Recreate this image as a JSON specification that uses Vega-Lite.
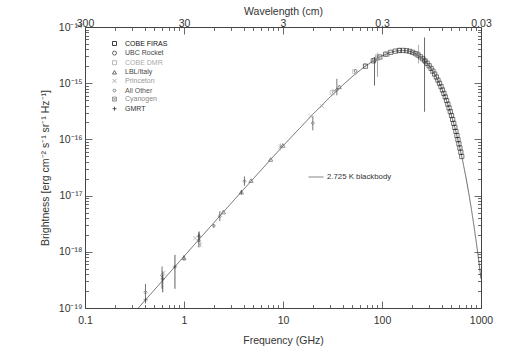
{
  "$schema": "https://vega.github.io/schema/vega-lite/v6.json",
  "autosize": "none",
  "width": 396,
  "height": 281,
  "padding": {"left": 85, "top": 27, "right": 35, "bottom": 50},
  "background": "white",
  "config": {
    "font": "Liberation Sans",
    "view": {"stroke": "#444", "strokeWidth": 1},
    "axis": {"grid": false, "domain": false, "tickColor": "#444", "tickWidth": 0.8, "labelColor": "#333", "titleColor": "#333", "labelFont": "Liberation Sans", "titleFont": "Liberation Sans", "titleFontWeight": "normal", "labelFontSize": 10.5, "titleFontSize": 10.5, "labelFlush": false, "labelOverlap": false},
    "legend": {"labelFont": "Liberation Sans", "labelColor": "#444"}
  },
  "datasets": {
    "bb": [
      {"nu": 0.3459, "B": 9.99e-20}, {"nu": 1, "B": 8.30e-19}, {"nu": 3, "B": 7.34e-18}, {"nu": 10, "B": 7.66e-17},
      {"nu": 20, "B": 2.79e-16}, {"nu": 30, "B": 5.72e-16}, {"nu": 40, "B": 9.23e-16}, {"nu": 50, "B": 1.305e-15},
      {"nu": 60, "B": 1.697e-15}, {"nu": 70, "B": 2.081e-15}, {"nu": 80, "B": 2.442e-15}, {"nu": 90, "B": 2.771e-15},
      {"nu": 100, "B": 3.060e-15}, {"nu": 120, "B": 3.502e-15}, {"nu": 140, "B": 3.756e-15}, {"nu": 160, "B": 3.837e-15},
      {"nu": 180, "B": 3.770e-15}, {"nu": 200, "B": 3.589e-15}, {"nu": 220, "B": 3.329e-15}, {"nu": 250, "B": 2.855e-15},
      {"nu": 280, "B": 2.353e-15}, {"nu": 300, "B": 2.030e-15}, {"nu": 350, "B": 1.333e-15}, {"nu": 400, "B": 8.24e-16},
      {"nu": 450, "B": 4.86e-16}, {"nu": 500, "B": 2.76e-16}, {"nu": 550, "B": 1.524e-16}, {"nu": 600, "B": 8.20e-17},
      {"nu": 650, "B": 4.32e-17}, {"nu": 700, "B": 2.24e-17}, {"nu": 750, "B": 1.141e-17}, {"nu": 800, "B": 5.74e-18},
      {"nu": 850, "B": 2.85e-18}, {"nu": 900, "B": 1.40e-18}, {"nu": 950, "B": 6.85e-19}, {"nu": 1000, "B": 3.31e-19}
    ],
    "firas": [
      {"nu": 68.05, "B": 2.007e-15, "src": "COBE FIRAS"}, {"nu": 81.65, "B": 2.499e-15, "src": "COBE FIRAS"},
      {"nu": 95.25, "B": 2.928e-15, "src": "COBE FIRAS"}, {"nu": 108.86, "B": 3.278e-15, "src": "COBE FIRAS"},
      {"nu": 122.46, "B": 3.543e-15, "src": "COBE FIRAS"}, {"nu": 136.06, "B": 3.721e-15, "src": "COBE FIRAS"},
      {"nu": 149.66, "B": 3.815e-15, "src": "COBE FIRAS"}, {"nu": 163.26, "B": 3.835e-15, "src": "COBE FIRAS"},
      {"nu": 176.87, "B": 3.789e-15, "src": "COBE FIRAS"}, {"nu": 190.47, "B": 3.687e-15, "src": "COBE FIRAS"},
      {"nu": 204.07, "B": 3.542e-15, "src": "COBE FIRAS"}, {"nu": 217.67, "B": 3.362e-15, "src": "COBE FIRAS"},
      {"nu": 231.28, "B": 3.159e-15, "src": "COBE FIRAS"}, {"nu": 244.88, "B": 2.940e-15, "src": "COBE FIRAS"},
      {"nu": 258.48, "B": 2.713e-15, "src": "COBE FIRAS"}, {"nu": 272.08, "B": 2.485e-15, "src": "COBE FIRAS"},
      {"nu": 285.68, "B": 2.260e-15, "src": "COBE FIRAS"}, {"nu": 299.29, "B": 2.042e-15, "src": "COBE FIRAS"},
      {"nu": 312.89, "B": 1.834e-15, "src": "COBE FIRAS"}, {"nu": 326.49, "B": 1.638e-15, "src": "COBE FIRAS"},
      {"nu": 340.09, "B": 1.456e-15, "src": "COBE FIRAS"}, {"nu": 353.70, "B": 1.288e-15, "src": "COBE FIRAS"},
      {"nu": 367.30, "B": 1.135e-15, "src": "COBE FIRAS"}, {"nu": 380.90, "B": 9.96e-16, "src": "COBE FIRAS"},
      {"nu": 394.50, "B": 8.71e-16, "src": "COBE FIRAS"}, {"nu": 408.11, "B": 7.58e-16, "src": "COBE FIRAS"},
      {"nu": 421.71, "B": 6.58e-16, "src": "COBE FIRAS"}, {"nu": 435.31, "B": 5.70e-16, "src": "COBE FIRAS"},
      {"nu": 448.91, "B": 4.92e-16, "src": "COBE FIRAS"}, {"nu": 462.52, "B": 4.23e-16, "src": "COBE FIRAS"},
      {"nu": 476.12, "B": 3.63e-16, "src": "COBE FIRAS"}, {"nu": 489.72, "B": 3.11e-16, "src": "COBE FIRAS"},
      {"nu": 503.32, "B": 2.66e-16, "src": "COBE FIRAS"}, {"nu": 516.93, "B": 2.265e-16, "src": "COBE FIRAS"},
      {"nu": 530.53, "B": 1.927e-16, "src": "COBE FIRAS"}, {"nu": 544.13, "B": 1.636e-16, "src": "COBE FIRAS"},
      {"nu": 557.73, "B": 1.387e-16, "src": "COBE FIRAS"}, {"nu": 571.34, "B": 1.173e-16, "src": "COBE FIRAS"},
      {"nu": 584.94, "B": 9.91e-17, "src": "COBE FIRAS"}, {"nu": 598.54, "B": 8.35e-17, "src": "COBE FIRAS"},
      {"nu": 612.14, "B": 7.03e-17, "src": "COBE FIRAS"}, {"nu": 625.75, "B": 5.91e-17, "src": "COBE FIRAS"},
      {"nu": 639.35, "B": 4.96e-17, "src": "COBE FIRAS"}
    ],
    "pts": [
      {"nu": 0.408, "B": 1.9e-19, "lo": 1.2e-19, "hi": 2.7e-19, "src": "All Other"},
      {"nu": 0.41, "B": 1.4e-19, "src": "GMRT"},
      {"nu": 0.60, "B": 3.8e-19, "lo": 2.2e-19, "hi": 5.5e-19, "src": "All Other"},
      {"nu": 0.61, "B": 3.3e-19, "lo": 1.9e-19, "hi": 4.5e-19, "src": "GMRT"},
      {"nu": 0.62, "B": 4.2e-19, "src": "Princeton"},
      {"nu": 0.81, "B": 5.4e-19, "lo": 2.2e-19, "hi": 8.8e-19, "src": "GMRT"},
      {"nu": 1.0, "B": 7.8e-19, "lo": 7.0e-19, "hi": 8.7e-19, "src": "LBL/Italy"},
      {"nu": 1.3, "B": 1.75e-18, "src": "Princeton"},
      {"nu": 1.41, "B": 1.6e-18, "lo": 1.2e-18, "hi": 2.2e-18, "src": "All Other"},
      {"nu": 1.42, "B": 1.9e-18, "lo": 1.5e-18, "hi": 2.3e-18, "src": "GMRT"},
      {"nu": 1.45, "B": 1.35e-18, "lo": 1.2e-18, "hi": 1.6e-18, "src": "Princeton"},
      {"nu": 2.0, "B": 2.9e-18, "lo": 2.7e-18, "hi": 3.1e-18, "src": "All Other"},
      {"nu": 2.3, "B": 4.3e-18, "lo": 3.5e-18, "hi": 5.3e-18, "src": "All Other"},
      {"nu": 2.5, "B": 5.1e-18, "src": "LBL/Italy"},
      {"nu": 3.8, "B": 1.15e-17, "lo": 1.05e-17, "hi": 1.25e-17, "src": "LBL/Italy"},
      {"nu": 4.08, "B": 1.8e-17, "lo": 1.5e-17, "hi": 2.2e-17, "src": "All Other"},
      {"nu": 4.75, "B": 1.85e-17, "src": "LBL/Italy"},
      {"nu": 7.5, "B": 4.4e-17, "src": "LBL/Italy"},
      {"nu": 9.4, "B": 7.4e-17, "lo": 6.4e-17, "hi": 8.4e-17, "src": "Princeton"},
      {"nu": 10.0, "B": 7.8e-17, "src": "LBL/Italy"},
      {"nu": 19.0, "B": 2.6e-16, "src": "Princeton"},
      {"nu": 20.0, "B": 1.95e-16, "lo": 1.45e-16, "hi": 2.6e-16, "src": "All Other"},
      {"nu": 24.8, "B": 3.9e-16, "src": "Princeton"},
      {"nu": 31.5, "B": 6.8e-16, "lo": 6.0e-16, "hi": 7.6e-16, "src": "COBE DMR"},
      {"nu": 33.0, "B": 7.3e-16, "src": "Princeton"},
      {"nu": 35.0, "B": 7.6e-16, "lo": 6.1e-16, "hi": 1.2e-15, "src": "All Other"},
      {"nu": 37.0, "B": 8.6e-16, "src": "LBL/Italy"},
      {"nu": 53.0, "B": 1.6e-15, "lo": 1.45e-15, "hi": 1.75e-15, "src": "COBE DMR"},
      {"nu": 54.0, "B": 1.65e-15, "src": "All Other"},
      {"nu": 67.0, "B": 2.1e-15, "src": "All Other"},
      {"nu": 84.0, "B": 2.6e-15, "lo": 9.1e-16, "hi": 2.9e-15, "src": "UBC Rocket"},
      {"nu": 90.0, "B": 2.8e-15, "lo": 1.3e-15, "hi": 3.1e-15, "src": "Cyanogen"},
      {"nu": 90.5, "B": 3.0e-15, "lo": 2.5e-15, "hi": 3.5e-15, "src": "COBE DMR"},
      {"nu": 113.0, "B": 3.3e-15, "src": "Cyanogen"},
      {"nu": 150.0, "B": 3.85e-15, "src": "UBC Rocket"},
      {"nu": 227.0, "B": 3.3e-15, "src": "Cyanogen"},
      {"nu": 234.0, "B": 3.3e-15, "lo": 2.24e-15, "hi": 4.8e-15, "src": "Princeton"},
      {"nu": 269.0, "B": 2.5e-15, "lo": 3.1e-16, "hi": 6.5e-15, "src": "UBC Rocket"}
    ]
  },
  "layer": [
    {
      "data": {"name": "bb"},
      "mark": {"type": "line", "color": "#444", "strokeWidth": 0.8, "clip": true},
      "encoding": {
        "x": {"field": "nu", "type": "quantitative", "scale": {"type": "log", "domain": [0.1, 1000], "nice": false},
          "axis": {"orient": "bottom", "values": [0.1, 1, 10, 100, 1000], "tickSize": -7, "labelPadding": 14,
            "labelExpr": "datum.value < 0.5 ? '0.1' : datum.value < 5 ? '1' : datum.value < 50 ? '10' : datum.value < 500 ? '100' : '1000'",
            "title": "Frequency (GHz)", "titlePadding": 10}},
        "y": {"field": "B", "type": "quantitative", "scale": {"type": "log", "domain": [1e-19, 1e-14], "nice": false},
          "axis": {"orient": "left", "values": [1e-19, 1e-18, 1e-17, 1e-16, 1e-15, 1e-14], "tickSize": -7, "labelPadding": 10,
            "labelExpr": "datum.value < 5e-19 ? '10⁻¹⁹' : datum.value < 5e-18 ? '10⁻¹⁸' : datum.value < 5e-17 ? '10⁻¹⁷' : datum.value < 5e-16 ? '10⁻¹⁶' : datum.value < 5e-15 ? '10⁻¹⁵' : '10⁻¹⁴'",
            "title": "Brightness [erg cm⁻² s⁻¹ sr⁻¹ Hz⁻¹]", "titlePadding": 8}},
        "strokeDash": {"datum": "2.725 K blackbody", "type": "nominal", "scale": {"range": [[1, 0]]},
          "legend": {"orient": "none", "legendX": 223, "legendY": 142, "title": null, "padding": 0, "symbolType": "stroke", "symbolSize": 225, "symbolStrokeColor": "#555", "symbolStrokeWidth": 0.8, "labelFontSize": 7.8, "labelColor": "#333", "labelOffset": 3,
            "encode": {"symbols": {"update": {"strokeDash": {"value": [3, 2]}}}}}}
      }
    },
    {
      "data": {"name": "pts"},
      "transform": [{"filter": "isValid(datum.lo)"}],
      "mark": {"type": "rule", "strokeWidth": 0.8},
      "encoding": {
        "x": {"field": "nu", "type": "quantitative",
          "axis": {"orient": "bottom", "values": [0.2, 0.3, 0.4, 0.5, 0.6, 0.7, 0.8, 0.9, 2, 3, 4, 5, 6, 7, 8, 9, 20, 30, 40, 50, 60, 70, 80, 90, 200, 300, 400, 500, 600, 700, 800, 900], "tickSize": -3.5, "labels": false, "title": null}},
        "y": {"field": "lo", "type": "quantitative",
          "axis": {"orient": "left", "values": [2e-19, 3e-19, 4e-19, 5e-19, 6e-19, 7e-19, 8e-19, 9e-19, 2e-18, 3e-18, 4e-18, 5e-18, 6e-18, 7e-18, 8e-18, 9e-18, 2e-17, 3e-17, 4e-17, 5e-17, 6e-17, 7e-17, 8e-17, 9e-17, 2e-16, 3e-16, 4e-16, 5e-16, 6e-16, 7e-16, 8e-16, 9e-16, 2e-15, 3e-15, 4e-15, 5e-15, 6e-15, 7e-15, 8e-15, 9e-15], "tickSize": -3.5, "labels": false, "title": null}},
        "y2": {"field": "hi"},
        "color": {"field": "src", "type": "nominal",
          "legend": {"orient": "none", "legendX": 26, "legendY": 13, "title": null, "padding": 0, "symbolSize": 16, "symbolStrokeWidth": 0.8, "labelFontSize": 7, "labelOffset": 7, "rowPadding": 0.6,
            "encode": {"labels": {"update": {"fill": {"scale": "color", "field": "value"}}}}}}
      }
    },
    {
      "data": {"name": "firas"},
      "mark": {"type": "point", "filled": false, "strokeWidth": 0.8, "size": 18},
      "encoding": {
        "x": {"field": "nu", "type": "quantitative",
          "axis": {"orient": "top", "values": [0.1, 1, 10, 100, 1000], "tickSize": -7, "labelPadding": 6,
            "labelExpr": "datum.value < 0.5 ? '300' : datum.value < 5 ? '30' : datum.value < 50 ? '3' : datum.value < 500 ? '0.3' : '0.03'",
            "title": "Wavelength (cm)", "titlePadding": 2}},
        "y": {"field": "B", "type": "quantitative",
          "axis": {"orient": "right", "values": [1e-19, 1e-18, 1e-17, 1e-16, 1e-15, 1e-14], "tickSize": -7, "labels": false, "title": null}},
        "color": {"field": "src", "type": "nominal",
          "scale": {"domain": ["COBE FIRAS", "UBC Rocket", "COBE DMR", "LBL/Italy", "Princeton", "All Other", "Cyanogen", "GMRT"],
            "range": ["#111111", "#444444", "#aaaaaa", "#444444", "#999999", "#555555", "#888888", "#333333"]},
          "legend": {"orient": "none", "legendX": 26, "legendY": 13, "title": null, "padding": 0, "symbolSize": 16, "symbolStrokeWidth": 0.8, "labelFontSize": 7, "labelOffset": 7, "rowPadding": 0.6,
            "encode": {"labels": {"update": {"fill": {"scale": "color", "field": "value"}}}}}},
        "shape": {"field": "src", "type": "nominal",
          "scale": {"domain": ["COBE FIRAS", "UBC Rocket", "COBE DMR", "LBL/Italy", "Princeton", "All Other", "Cyanogen", "GMRT"],
            "range": ["square", "circle", "square", "triangle-up", "M-1,-1L1,1M-1,1L1,-1", "M0,-0.8L0.8,0L0,0.8L-0.8,0Z", "M-1,-1H1V1H-1ZM-1,-1L1,1M-1,1L1,-1", "M-1,0H1M0,-1V1"]},
          "legend": {"orient": "none", "legendX": 26, "legendY": 13, "title": null, "padding": 0, "symbolSize": 16, "symbolStrokeWidth": 0.8, "labelFontSize": 7, "labelOffset": 7, "rowPadding": 0.6,
            "encode": {"labels": {"update": {"fill": {"scale": "color", "field": "value"}}}}}}
      }
    },
    {
      "data": {"name": "pts"},
      "mark": {"type": "point", "filled": false, "strokeWidth": 0.8, "size": 18},
      "encoding": {
        "x": {"field": "nu", "type": "quantitative",
          "axis": {"orient": "top", "values": [0.2, 0.3, 0.4, 0.5, 0.6, 0.7, 0.8, 0.9, 2, 3, 4, 5, 6, 7, 8, 9, 20, 30, 40, 50, 60, 70, 80, 90, 200, 300, 400, 500, 600, 700, 800, 900], "tickSize": -3.5, "labels": false, "title": null}},
        "y": {"field": "B", "type": "quantitative",
          "axis": {"orient": "right", "values": [2e-19, 3e-19, 4e-19, 5e-19, 6e-19, 7e-19, 8e-19, 9e-19, 2e-18, 3e-18, 4e-18, 5e-18, 6e-18, 7e-18, 8e-18, 9e-18, 2e-17, 3e-17, 4e-17, 5e-17, 6e-17, 7e-17, 8e-17, 9e-17, 2e-16, 3e-16, 4e-16, 5e-16, 6e-16, 7e-16, 8e-16, 9e-16, 2e-15, 3e-15, 4e-15, 5e-15, 6e-15, 7e-15, 8e-15, 9e-15], "tickSize": -3.5, "labels": false, "title": null}},
        "color": {"field": "src", "type": "nominal",
          "legend": {"orient": "none", "legendX": 26, "legendY": 13, "title": null, "padding": 0, "symbolSize": 16, "symbolStrokeWidth": 0.8, "labelFontSize": 7, "labelOffset": 7, "rowPadding": 0.6,
            "encode": {"labels": {"update": {"fill": {"scale": "color", "field": "value"}}}}}},
        "shape": {"field": "src", "type": "nominal",
          "legend": {"orient": "none", "legendX": 26, "legendY": 13, "title": null, "padding": 0, "symbolSize": 16, "symbolStrokeWidth": 0.8, "labelFontSize": 7, "labelOffset": 7, "rowPadding": 0.6,
            "encode": {"labels": {"update": {"fill": {"scale": "color", "field": "value"}}}}}}
      }
    }
  ],
  "resolve": {"axis": {"x": "independent", "y": "independent"}}
}
